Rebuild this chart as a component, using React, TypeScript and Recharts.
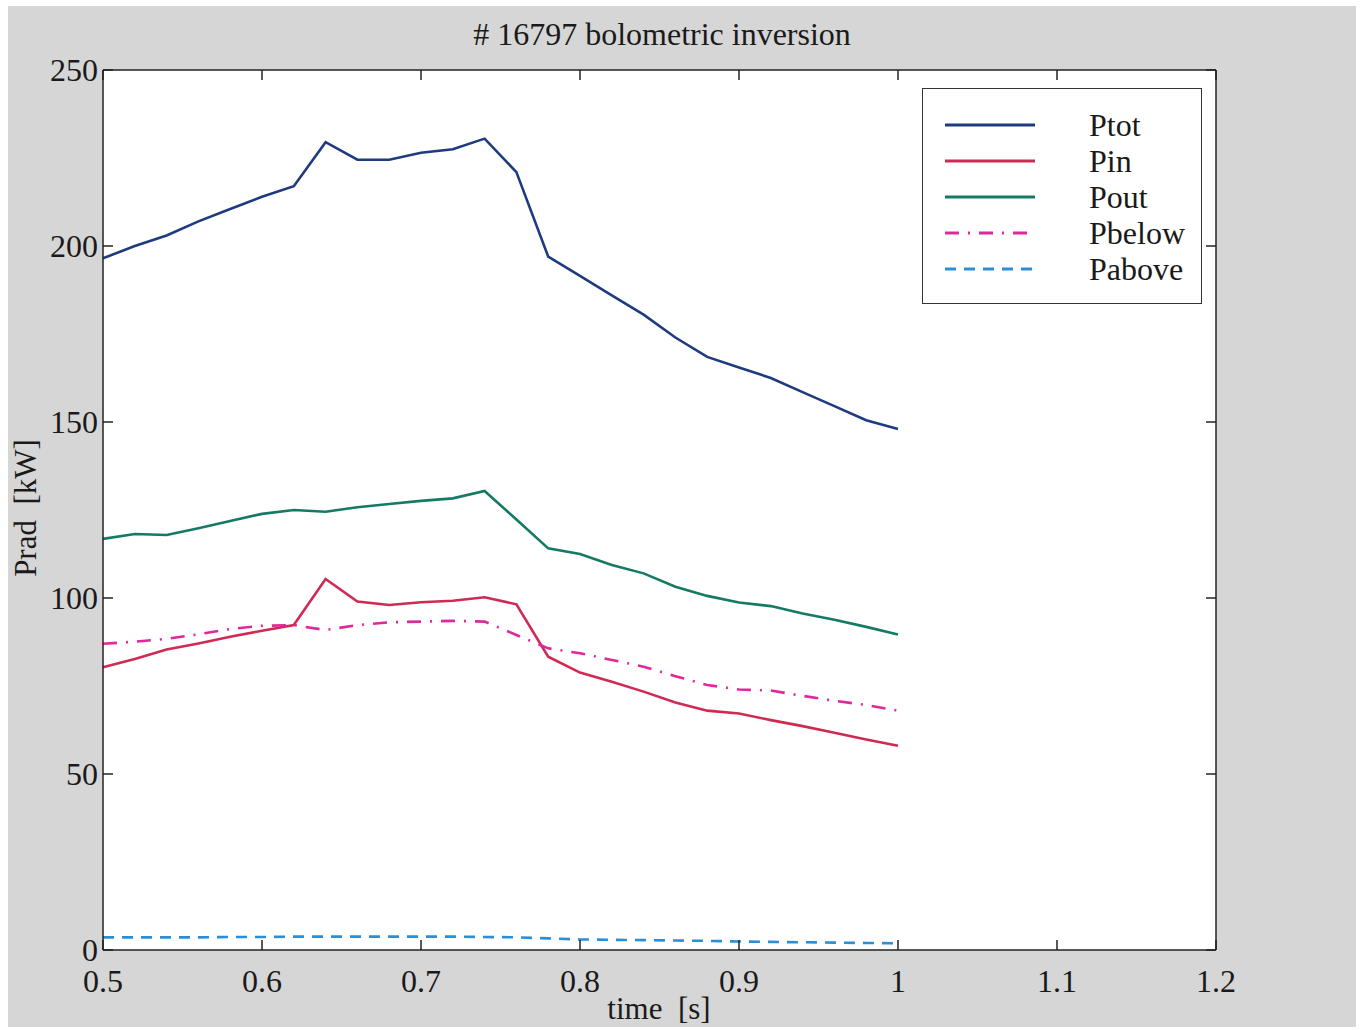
import { LineChart, Line, XAxis, YAxis } from "recharts";

// time axis, one sample every 20 ms
const time = [
  0.5, 0.52, 0.54, 0.56, 0.58, 0.6, 0.62, 0.64, 0.66, 0.68, 0.7, 0.72, 0.74,
  0.76, 0.78, 0.8, 0.82, 0.84, 0.86, 0.88, 0.9, 0.92, 0.94, 0.96, 0.98, 1.0,
];

const ptot = [
  196.5, 200, 203, 207, 210.5, 214, 217, 229.5, 224.5, 224.5, 226.5, 227.5,
  230.5, 221, 197, 191.5, 186, 180.5, 174, 168.5, 165.5, 162.5, 158.5, 154.5,
  150.5, 148,
];
const pin = [
  80.3, 82.7, 85.4, 87.1, 89, 90.7, 92.3, 105.4, 99, 98, 98.8, 99.2, 100.2,
  98.2, 83.3, 78.8, 76.2, 73.4, 70.3, 68, 67.2, 65.3, 63.6, 61.7, 59.8, 58,
];
const pout = [
  116.8, 118.2, 117.9, 119.8, 121.9, 123.9, 125, 124.5, 125.8, 126.7, 127.6,
  128.3, 130.4, 122.3, 114.1, 112.5, 109.4, 107, 103.2, 100.6, 98.7, 97.7,
  95.6, 93.8, 91.8, 89.6,
];
const pbelow = [
  87, 87.6, 88.4, 89.7, 91.2, 92.1, 92.3, 90.9, 92.3, 93.1, 93.3, 93.5, 93.3,
  89.5, 85.7, 84.3, 82.4, 80.5, 77.8, 75.3, 74, 73.7, 72.2, 70.8, 69.6, 68,
];
const pabove = [
  3.6, 3.6, 3.6, 3.6, 3.7, 3.7, 3.8, 3.8, 3.8, 3.8, 3.8, 3.8, 3.7, 3.6, 3.3,
  3.0, 2.9, 2.8, 2.7, 2.6, 2.4, 2.3, 2.2, 2.1, 2.0, 1.9,
];

const xTicks = [0.5, 0.6, 0.7, 0.8, 0.9, 1.0, 1.1, 1.2];
const yTicks = [0, 50, 100, 150, 200, 250];

// the last series is bound to the top/right axes (same domains) so that the
// box axes get a real scale and draw their inward ticks
const series = [
  { key: "ptot", name: "Ptot", color: "#1f3b80", dash: undefined as string | undefined, box: false },
  { key: "pin", name: "Pin", color: "#d02a52", dash: undefined, box: false },
  { key: "pout", name: "Pout", color: "#157a64", dash: undefined, box: false },
  { key: "pbelow", name: "Pbelow", color: "#e0289c", dash: "14 9 2 9", box: false },
  { key: "pabove", name: "Pabove", color: "#2b8fd6", dash: "11 8", box: true },
];

const data = time.map((t, i) => ({
  t,
  ptot: ptot[i],
  pin: pin[i],
  pout: pout[i],
  pbelow: pbelow[i],
  pabove: pabove[i],
}));

const font = "'Liberation Serif', 'DejaVu Serif', serif";
const tickStyle = { fill: "#1a1a1a", fontSize: 32, fontFamily: font };
const axisStroke = { stroke: "#222", strokeWidth: 1.5 };

export default function App() {
  return (
    <div
      style={{
        position: "fixed",
        left: 0,
        top: 0,
        width: 1364,
        height: 1030,
        background: "#fff",
        fontFamily: font,
      }}
    >
      <div
        style={{
          position: "absolute",
          left: 8,
          top: 6,
          width: 1348,
          height: 1021,
          background: "#d6d6d6",
        }}
      />
      <div style={{ position: "absolute", left: 0, top: 0 }}>
        <LineChart
          width={1364}
          height={1030}
          data={data}
          margin={{ top: 69, right: 147, bottom: 40, left: 43 }}
        >
          <rect x={103} y={70} width={1113} height={880} fill="#fff" />
          <XAxis
            dataKey="t"
            type="number"
            domain={[0.5, 1.2]}
            ticks={xTicks}
            tickFormatter={(v) => String(Number(v.toFixed(2)))}
            height={40}
            tickSize={-10}
            tickMargin={29}
            tick={tickStyle}
            axisLine={axisStroke}
            tickLine={axisStroke}
          />
          <XAxis
            xAxisId="top"
            dataKey="t"
            orientation="top"
            type="number"
            domain={[0.5, 1.2]}
            ticks={xTicks}
            tickFormatter={() => ""}
            height={1}
            tickSize={-10}
            axisLine={axisStroke}
            tickLine={axisStroke}
          />
          <YAxis
            type="number"
            domain={[0, 250]}
            ticks={yTicks}
            width={60}
            tickSize={-10}
            tickMargin={15}
            tick={tickStyle}
            axisLine={axisStroke}
            tickLine={axisStroke}
          />
          <YAxis
            yAxisId="right"
            orientation="right"
            type="number"
            domain={[0, 250]}
            ticks={yTicks}
            tickFormatter={() => ""}
            width={1}
            tickSize={-10}
            axisLine={axisStroke}
            tickLine={axisStroke}
          />
          {series.map((s) => (
            <Line
              key={s.key}
              dataKey={s.key}
              name={s.name}
              xAxisId={s.box ? "top" : 0}
              yAxisId={s.box ? "right" : 0}
              stroke={s.color}
              strokeWidth={2.6}
              strokeDasharray={s.dash}
              dot={false}
              activeDot={false}
              isAnimationActive={false}
            />
          ))}
        </LineChart>
      </div>

      {/* title */}
      <div
        style={{
          position: "absolute",
          left: 0,
          top: 16,
          width: 1324,
          textAlign: "center",
          fontSize: 32,
          color: "#1a1a1a",
        }}
      >
        # 16797 bolometric inversion
      </div>

      {/* x label */}
      <div
        style={{
          position: "absolute",
          left: 0,
          top: 991,
          width: 1318,
          textAlign: "center",
          fontSize: 31,
          color: "#1a1a1a",
          whiteSpace: "pre",
        }}
      >
        {"time  [s]"}
      </div>

      {/* y label */}
      <div
        style={{
          position: "absolute",
          left: 26,
          top: 508,
          transform: "translate(-50%, -50%) rotate(-90deg)",
          fontSize: 31,
          color: "#1a1a1a",
          whiteSpace: "pre",
        }}
      >
        {"Prad  [kW]"}
      </div>

      {/* legend */}
      <div
        style={{
          position: "absolute",
          left: 922,
          top: 88,
          width: 278,
          height: 214,
          border: "1.5px solid #333",
          background: "#fff",
        }}
      >
        {series.map((s, i) => (
          <div
            key={s.key}
            style={{
              position: "absolute",
              left: 0,
              top: 18 + i * 36,
              height: 36,
              display: "flex",
              alignItems: "center",
            }}
          >
            <svg width={166} height={36}>
              <line
                x1={22}
                x2={112}
                y1={18}
                y2={18}
                stroke={s.color}
                strokeWidth={3}
                strokeDasharray={s.dash}
              />
            </svg>
            <span style={{ fontSize: 32, color: "#1a1a1a" }}>{s.name}</span>
          </div>
        ))}
      </div>
    </div>
  );
}
